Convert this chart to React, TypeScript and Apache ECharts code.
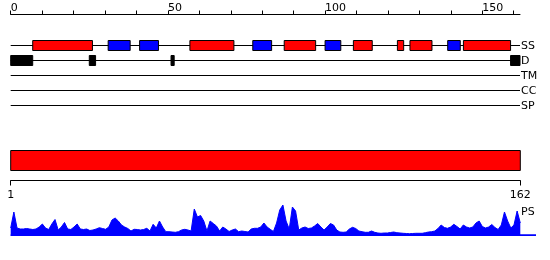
import React, { useEffect, useRef } from "react";
import * as echarts from "echarts";

const trackNames = ["SS", "D", "TM", "CC", "SP"];
const seqLength = 162;
const topTickValues = [0, 10, 20, 30, 40, 50, 60, 70, 80, 90, 100, 110, 120, 130, 140, 150, 160];
const topLabelValues = [0, 50, 100, 150];
const bottomLabelValues = [1, 162];

// secondary structure: H = helix (red), E = strand (blue)
const ssStart = [7, 31, 41, 57, 77, 87, 100, 109, 123, 127, 139, 144];
const ssEnd = [26, 38, 47, 71, 83, 97, 105, 115, 125, 134, 143, 159];
const ssType = ["H", "E", "E", "H", "E", "H", "E", "H", "H", "H", "E", "H"];

// disorder
const disStart = [0, 25, 51, 159];
const disEnd = [7, 27, 52, 162];

// domain bar
const domainStart = [1];
const domainEnd = [162];

// PS profile per residue
const psValues = [
  8, 24, 8, 7, 7, 7.5, 7, 6.5, 7, 9,
  12, 8, 6.5, 12, 16.5, 6, 9, 13.5, 7, 6.5,
  9, 12, 7, 6.5, 7, 5.5, 6, 7, 8.3, 7.5,
  6.7, 9, 16, 18, 15, 11, 9, 7.5, 5, 6.7,
  6.5, 6, 6.5, 7.7, 5, 11.7, 8, 15, 9, 4.3,
  4.3, 4, 3.7, 4.3, 6, 6.7, 6, 5, 27, 19,
  20.5, 15, 5, 15, 12.5, 10, 5, 9, 7, 4.5,
  6, 7, 4.3, 5, 4.5, 4, 7, 7.7, 7.7, 9,
  13, 9, 6.7, 4.5, 13, 26, 31, 15, 7, 29,
  25, 6, 8, 9, 7.5, 8, 10, 12.5, 9, 6,
  9, 12.5, 11, 6, 4, 3.7, 4, 7, 8.7, 7.5,
  5, 4.3, 3.7, 3.7, 5, 3.7, 3, 2.7, 3, 3,
  3.5, 4, 3.3, 3, 2.7, 2.5, 2.3, 2.5, 2.7, 2.7,
  2.7, 3.3, 4, 4.3, 5, 7.5, 11, 8.5, 7.7, 9,
  11.7, 9.5, 7, 11, 9, 8, 9, 13, 15, 9.5,
  8, 9, 11.5, 8.5, 6.5, 11, 24, 15, 8, 11,
  25, 13,
];

const FONT = "DejaVu Sans";
const HELIX = "#ff0000";
const STRAND = "#0000ff";

export default function App() {
  const ref = useRef<HTMLDivElement>(null);

  useEffect(() => {
    if (!ref.current) return;
    const chart = echarts.init(ref.current, null, { renderer: "svg" });

    const boxRender = (h: number) => (params: any, api: any) => {
      const p0 = api.coord([api.value(0), api.value(2)]);
      const p1 = api.coord([api.value(1), api.value(2)]);
      return {
        type: "rect",
        shape: { x: p0[0], y: p0[1] - h / 2, width: p1[0] - p0[0], height: h },
        style: { fill: api.visual("color"), stroke: "#000", lineWidth: 1 },
      };
    };

    const option: any = {
      animation: false,
      grid: [
        { left: 10.7, right: 30, top: 38, height: 75 },
        { left: 10.7, right: 29.7, top: 150, height: 30.5 },
        { left: 10.7, right: 29.7, top: 200, height: 36 },
      ],
      xAxis: [
        {
          gridIndex: 0,
          type: "value",
          position: "top",
          min: 0,
          max: seqLength,
          offset: 23.5,
          axisLine: { show: true, lineStyle: { color: "#000", width: 1 } },
          axisTick: { show: true, length: 4, customValues: topTickValues, lineStyle: { color: "#000" } },
          axisLabel: {
            customValues: topLabelValues,
            align: "left",
            margin: 2,
            fontSize: 11,
            fontFamily: FONT,
            color: "#000",
          },
          splitLine: { show: false },
        },
        {
          gridIndex: 1,
          type: "value",
          position: "bottom",
          min: 1,
          max: seqLength,
          axisLine: { show: true, lineStyle: { color: "#000", width: 1 } },
          axisTick: { show: true, length: 5, customValues: bottomLabelValues, lineStyle: { color: "#000" } },
          axisLabel: {
            customValues: bottomLabelValues,
            margin: 8.5,
            fontSize: 11,
            fontFamily: FONT,
            color: "#000",
          },
          splitLine: { show: false },
        },
        { gridIndex: 2, type: "value", min: 1, max: seqLength, show: false },
      ],
      yAxis: [
        {
          gridIndex: 0,
          type: "category",
          data: trackNames,
          inverse: true,
          position: "right",
          axisLine: { show: false },
          axisTick: { show: false },
          axisLabel: { margin: 1, fontSize: 11, fontFamily: FONT, color: "#000" },
          splitLine: { show: false },
        },
        { gridIndex: 1, type: "value", min: 0, max: 3, show: false },
        { gridIndex: 2, type: "value", min: 0, max: 36, show: false },
      ],
      series: [
        {
          type: "custom",
          xAxisIndex: 0,
          yAxisIndex: 0,
          z: 1,
          data: trackNames.map((_, i) => [0, seqLength, i]),
          renderItem: (params: any, api: any) => {
            const p0 = api.coord([api.value(0), api.value(2)]);
            const p1 = api.coord([api.value(1), api.value(2)]);
            return {
              type: "line",
              shape: { x1: p0[0], y1: p0[1], x2: p1[0], y2: p1[1] },
              style: { stroke: "#000", lineWidth: 1 },
            };
          },
        },
        {
          type: "custom",
          xAxisIndex: 0,
          yAxisIndex: 0,
          z: 2,
          data: ssStart.map((s, i) => ({
            value: [s, ssEnd[i], 0],
            itemStyle: { color: ssType[i] === "H" ? HELIX : STRAND },
          })),
          renderItem: boxRender(10),
        },
        {
          type: "custom",
          xAxisIndex: 0,
          yAxisIndex: 0,
          z: 2,
          itemStyle: { color: "#000" },
          data: disStart.map((s, i) => [s, disEnd[i], 1]),
          renderItem: boxRender(10),
        },
        {
          type: "custom",
          xAxisIndex: 1,
          yAxisIndex: 1,
          itemStyle: { color: HELIX },
          data: domainStart.map((s, i) => [s, domainEnd[i]]),
          renderItem: (params: any, api: any) => {
            const p0 = api.coord([api.value(0), 3]);
            const p1 = api.coord([api.value(1), 3]);
            return {
              type: "rect",
              shape: { x: p0[0], y: p0[1] + 0.5, width: p1[0] - p0[0], height: 20 },
              style: { fill: api.visual("color"), stroke: "#000", lineWidth: 1 },
            };
          },
        },
        {
          type: "line",
          xAxisIndex: 2,
          yAxisIndex: 2,
          showSymbol: false,
          data: psValues.map((v, i) => [i + 1, v]),
          lineStyle: { color: STRAND, width: 1 },
          itemStyle: { color: STRAND },
          areaStyle: { color: STRAND, opacity: 1 },
        },
      ],
      graphic: [
        {
          type: "rect",
          shape: { x: 10.7, y: 234.3, width: 525.3, height: 1.7 },
          style: { fill: STRAND },
          z: 0,
        },
        {
          type: "text",
          x: 521,
          y: 211,
          style: {
            text: "PS",
            fontSize: 11,
            fontFamily: FONT,
            fill: "#000",
            verticalAlign: "middle",
            align: "left",
          },
        },
      ],
    };

    chart.setOption(option);
    return () => chart.dispose();
  }, []);

  return (
    <div
      ref={ref}
      style={{ position: "fixed", left: 0, top: 0, width: 550, height: 260 }}
    />
  );
}
